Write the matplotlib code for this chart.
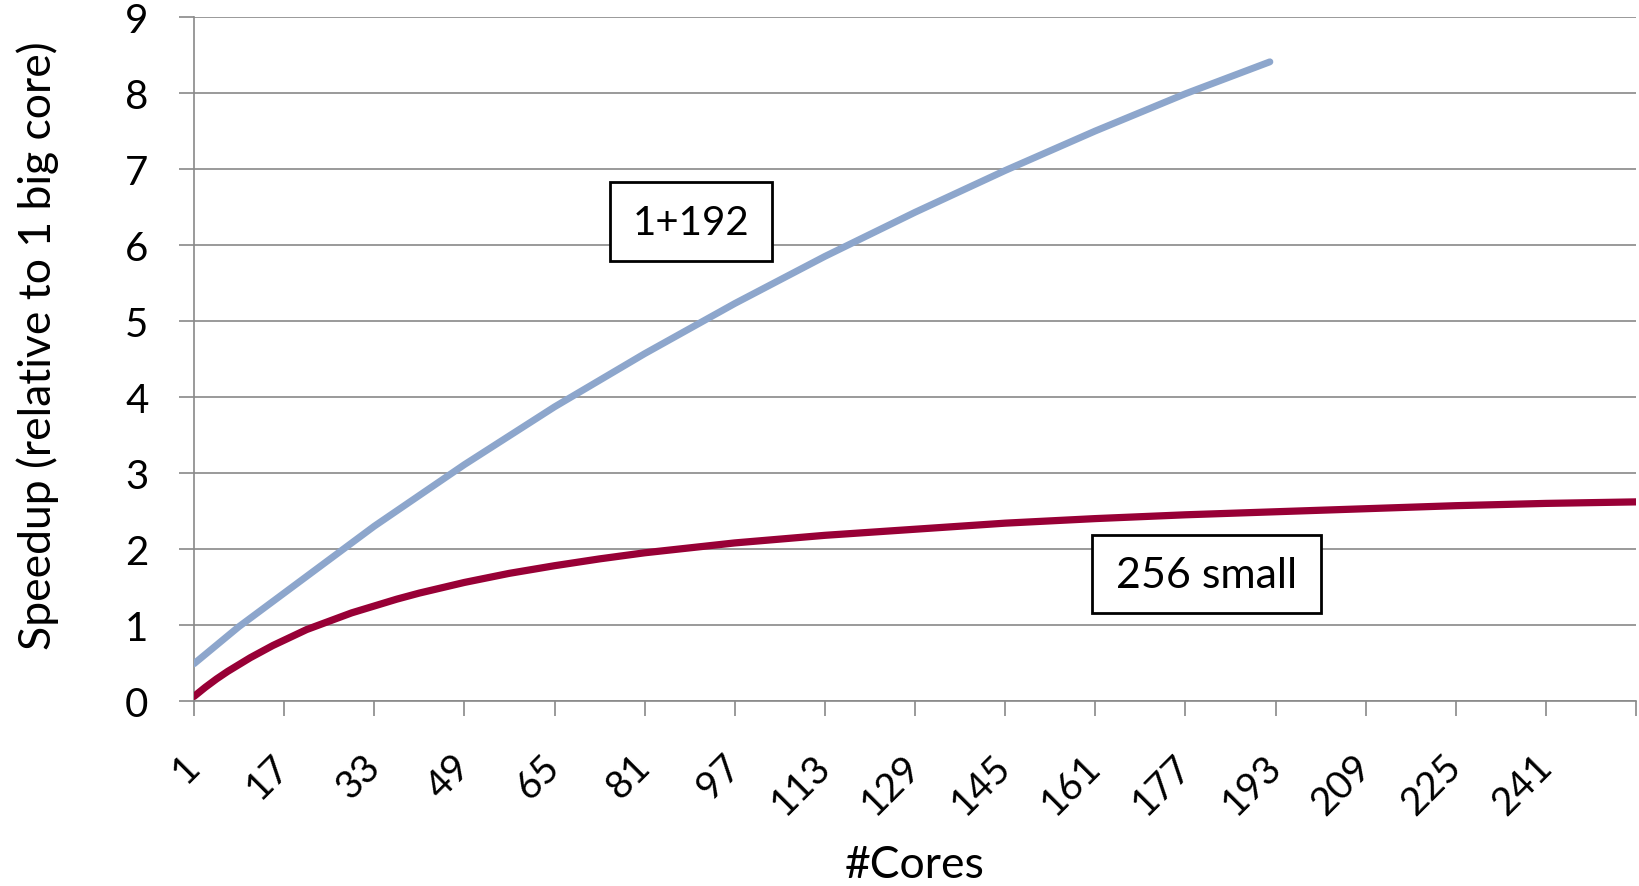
import matplotlib
matplotlib.use("Agg")
import matplotlib.pyplot as plt
from matplotlib.patches import Rectangle

plt.rcParams['font.family'] = ['Lato', 'DejaVu Sans']

# speedup curves read along the x axis (#cores)
small_x = [1, 2, 3, 5, 7, 9, 11, 13, 15, 17, 21, 25, 29, 33, 37, 41, 45, 49,
           57, 65, 73, 81, 97, 113, 129, 145, 161, 177, 193, 209, 225, 241, 257]
small_speedup = [0.06, 0.12, 0.18, 0.29, 0.39, 0.48, 0.57, 0.65, 0.73, 0.80,
                 0.94, 1.05, 1.16, 1.25, 1.34, 1.42, 1.49, 1.56, 1.68, 1.78,
                 1.87, 1.95, 2.08, 2.18, 2.26, 2.34, 2.40, 2.45, 2.49, 2.53,
                 2.57, 2.60, 2.62]

asym_x = [1, 9, 17, 33, 49, 65, 81, 97, 113, 129, 145, 161, 177, 192]
asym_speedup = [0.49, 0.98, 1.42, 2.30, 3.11, 3.87, 4.57, 5.23, 5.85, 6.43,
                6.98, 7.50, 7.99, 8.41]

xtick_pos = list(range(1, 258, 16))
xtick_labels = [str(v) for v in xtick_pos[:-1]] + ['']

grid_col = '#898989'

fig = plt.figure(figsize=(16.39, 8.87), dpi=100)
ax = fig.add_axes([194 / 1639, 1 - 702 / 887, (1636 - 194) / 1639, (702 - 18) / 887])

ax.plot(asym_x, asym_speedup, color='#8DA6CC', lw=5.0, solid_capstyle='round',
        solid_joinstyle='round', zorder=3)
ax.plot(small_x, small_speedup, color='#980036', lw=5.2, solid_capstyle='round',
        solid_joinstyle='round', zorder=3)

ax.set_xlim(1, 257)
ax.set_ylim(0, 9)
ax.set_yticks(range(0, 10))
ax.set_xticks(xtick_pos)
ax.set_xticklabels(xtick_labels)

ax.yaxis.grid(True, color=grid_col, lw=1.2)
ax.set_axisbelow(True)
for side in ['top', 'right']:
    ax.spines[side].set_visible(False)
for side in ['left', 'bottom']:
    ax.spines[side].set_color(grid_col)
    ax.spines[side].set_linewidth(1.2)

ax.tick_params(axis='y', length=10.8, width=1.2, color=grid_col, pad=22, labelsize=29)
ax.tick_params(axis='x', length=10.8, width=1.2, color=grid_col, pad=32, labelsize=28)
plt.setp(ax.get_xticklabels(), rotation=45, ha='right', va='center', rotation_mode='anchor')

# boxed series labels
ax.add_patch(Rectangle((74.8, 5.79), 28.9, 1.04, facecolor='white', edgecolor='black',
                       lw=2, zorder=4))
ax.text(89.3, 6.30, '1+192', ha='center', va='center', fontsize=29, zorder=5)
ax.add_patch(Rectangle((160.5, 1.155), 40.5, 1.035, facecolor='white', edgecolor='black',
                       lw=2, zorder=4))
ax.text(180.7, 1.66, '256 small', ha='center', va='center', fontsize=31, zorder=5)

fig.text(38 / 1639, 1 - 346 / 887, 'Speedup (relative to 1 big core)', rotation=90,
         ha='center', va='center', fontsize=32)
fig.text(915 / 1639, 1 - 866 / 887, '#Cores', ha='center', va='center', fontsize=32)

fig.savefig('out.png', dpi=100)
